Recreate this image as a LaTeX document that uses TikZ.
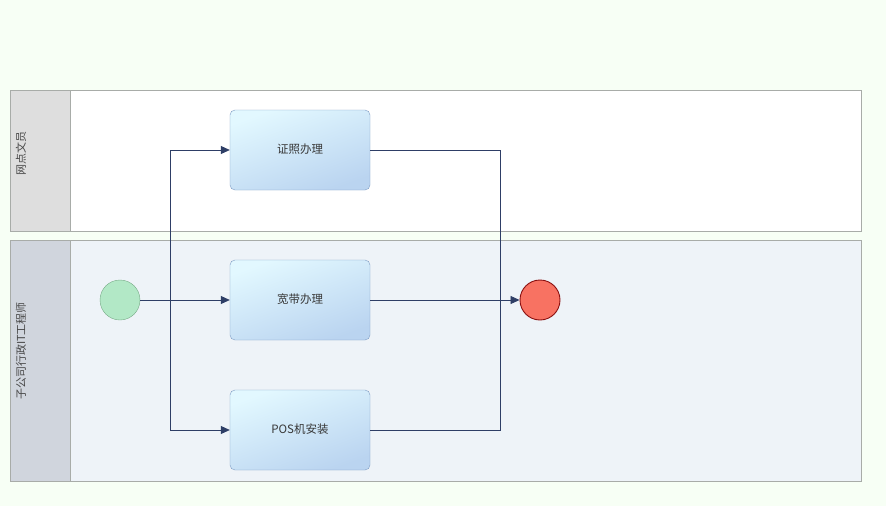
\documentclass[tikz,border=0pt]{standalone}
\usepackage{fontspec}
\newfontfamily\cjk{Noto Sans CJK SC}
\usetikzlibrary{arrows.meta}
\definecolor{pagebg}{HTML}{F7FFF5}
\definecolor{lanehead}{HTML}{DEDEDE}
\definecolor{laneheadb}{HTML}{D0D5DD}
\definecolor{lanebody}{HTML}{EEF3F8}
\definecolor{laneline}{HTML}{A8ACA8}
\definecolor{taskline}{HTML}{7E9CC4}
\definecolor{tasktop}{HTML}{E2F8FF}
\definecolor{taskbot}{HTML}{BAD4F0}
\definecolor{flowcol}{HTML}{2E3E66}
\definecolor{startfill}{HTML}{B2E8C6}
\definecolor{startline}{HTML}{78AC88}
\definecolor{endfill}{HTML}{F87262}
\definecolor{endline}{HTML}{8A1010}
\tikzset{task/.style={draw=taskline, rounded corners=5pt, minimum width=140pt, minimum height=80pt, shading=axis, top color=tasktop, bottom color=taskbot, shading angle=20, font=\cjk\fontsize{11.5}{13}\selectfont, text=black!78},
  lanetext/.style={rotate=90, font=\cjk\fontsize{11}{13}\selectfont, text=black!72},
  flow/.style={draw=flowcol, line width=0.8pt, -{Triangle[length=9pt,width=8pt]}},
  link/.style={draw=flowcol, line width=0.8pt}}

\begin{document}
\begin{tikzpicture}[x=1pt, y=-1pt]
  \useasboundingbox (0,0) rectangle (886,506);
  \fill[pagebg] (0,0) rectangle (886,506);

  \draw[laneline, fill=white] (10,90) rectangle (861,231);
  \draw[laneline, fill=lanehead] (10,90) rectangle (70,231);
  \draw[laneline, fill=lanebody] (10,240) rectangle (861,481);
  \draw[laneline, fill=laneheadb] (10,240) rectangle (70,481);
  \node[lanetext] (lane1) at (21,153) {网点文员};
  \node[lanetext] (lane2) at (21,351) {子公司行政IT工程师};

  \node[task] (t1) at (300,150) {\raisebox{3pt}{证照办理}};
  \node[task] (t2) at (300,300) {\raisebox{3pt}{宽带办理}};
  \node[task] (t3) at (300,430) {\raisebox{3pt}{POS机安装}};
  \node[draw=startline, fill=startfill, circle, minimum size=40pt, inner sep=0pt] (start) at (120,300) {};
  \node[draw=endline, fill=endfill, circle, line width=0.9pt, minimum size=40pt, inner sep=0pt] (finish) at (540,300) {};

  \coordinate (split) at (170,300);
  \coordinate (merge) at (500,300);

  \draw[flow] (start) -- (t2);
  \draw[flow] (split) |- (t1);
  \draw[flow] (split) |- (t3);
  \draw[link] (t1) -| (merge);
  \draw[link] (t3) -| (merge);
  \draw[flow] (t2) -- (finish);
\end{tikzpicture}
\end{document}
